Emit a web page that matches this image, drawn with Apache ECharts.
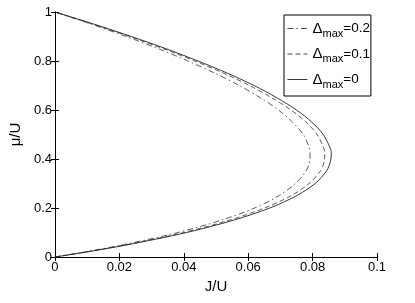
<!DOCTYPE html>
<html><head><meta charset="utf-8">
<script src="https://cdn.jsdelivr.net/npm/echarts@6/dist/echarts.min.js"></script>
<style>html,body{margin:0;padding:0;background:#fff}#c{width:415px;height:303px}</style>
</head><body><div id="c"></div>
<script>
// mu/U values (shared by all curves)
const muValues = [0, 0.02, 0.05, 0.1, 0.15, 0.2, 0.25, 0.3, 0.35, 0.375, 0.4, 0.425, 0.45, 0.5, 0.55, 0.6, 0.65, 0.7, 0.75, 0.8, 0.85, 0.9, 0.95, 1];
// J/U read for each curve
const jDelta0  = [0, 0.0096, 0.0226, 0.0409, 0.0554, 0.0667, 0.0750, 0.0808, 0.0843, 0.0852, 0.0857, 0.0858, 0.0853, 0.0833, 0.0798, 0.0750, 0.0689, 0.0618, 0.0536, 0.0444, 0.0345, 0.0237, 0.0122, 0];
const jDelta01 = [0, 0.0094, 0.0221, 0.0400, 0.0541, 0.0651, 0.0733, 0.0789, 0.0824, 0.0833, 0.0837, 0.0838, 0.0833, 0.0814, 0.0780, 0.0733, 0.0673, 0.0604, 0.0524, 0.0434, 0.0337, 0.0232, 0.0119, 0];
const jDelta02 = [0, 0.0090, 0.0212, 0.0382, 0.0516, 0.0620, 0.0695, 0.0747, 0.0779, 0.0788, 0.0792, 0.0792, 0.0789, 0.0771, 0.0738, 0.0694, 0.0638, 0.0572, 0.0497, 0.0413, 0.0321, 0.0221, 0.0114, 0];
const seriesNames = ['0.2', '0.1', '0'];
const xTicks = [0, 0.02, 0.04, 0.06, 0.08, 0.1];
const yTicks = [0, 0.2, 0.4, 0.6, 0.8, 1];

const pairs = (js) => js.map((j, i) => [j, muValues[i]]);
const font = 'Liberation Sans, Arial, sans-serif';
const chart = echarts.init(document.getElementById('c'), null, {renderer: 'canvas'});
const axisCommon = {
  axisLine: {show: true, lineStyle: {color: '#000', width: 1}},
  axisTick: {show: true, inside: true, length: 4, lineStyle: {color: '#000'}},
  splitLine: {show: false}
};
const lineBase = {type: 'line', symbol: 'none', showSymbol: false, smooth: 0.3, z: 2};
chart.setOption({
  animation: false,
  backgroundColor: '#fff',
  grid: {left: 54, right: 38, top: 12, bottom: 46},
  xAxis: [
    Object.assign({type: 'value', min: 0, max: 0.1, interval: 0.02, position: 'bottom',
      name: 'J/U', nameLocation: 'middle', nameGap: 20,
      nameTextStyle: {fontFamily: font, fontSize: 15, color: '#000'},
      axisLabel: {fontFamily: font, fontSize: 13, color: '#000', margin: 4,
        formatter: v => { const t = xTicks.find(x => Math.abs(x - v) < 1e-9); return t === undefined ? '' : String(+t.toFixed(2)); }}
    }, axisCommon),
    Object.assign({type: 'value', min: 0, max: 0.1, interval: 0.02, position: 'top', axisLabel: {show: false}}, axisCommon)
  ],
  yAxis: [
    Object.assign({type: 'value', min: 0, max: 1, interval: 0.2, position: 'left',
      name: 'μ/U', nameLocation: 'middle', nameGap: 23, nameRotate: 90,
      nameTextStyle: {fontFamily: font, fontSize: 15, color: '#000'},
      axisLabel: {fontFamily: font, fontSize: 13, color: '#000', margin: 3,
        formatter: v => { const t = yTicks.find(y => Math.abs(y - v) < 1e-9); return t === undefined ? '' : String(+t.toFixed(1)); }}
    }, axisCommon),
    Object.assign({type: 'value', min: 0, max: 1, interval: 0.2, position: 'right', axisLabel: {show: false}}, axisCommon)
  ],
  legend: {
    left: 284, top: 15, orient: 'vertical',
    padding: [6, 1, 6, 3], itemGap: 7.5, itemWidth: 20, itemHeight: 17,
    borderColor: '#000', borderWidth: 1, backgroundColor: '#fff',
    itemStyle: {opacity: 0},
    lineStyle: {width: 0.9},
    textStyle: {fontFamily: font, fontSize: 14, color: '#000',
      rich: {d: {fontFamily: font, fontSize: 15, color: '#000'},
             s: {fontFamily: font, fontSize: 11, color: '#000', padding: [10, 0, 0, 0]},
             v: {fontFamily: font, fontSize: 13.5, color: '#000'}}},
    formatter: n => '{d|Δ}{s|max}{v|=' + n + '}',
    data: seriesNames
  },
  series: [
    Object.assign({name: seriesNames[0], data: pairs(jDelta02),
      lineStyle: {color: '#333', width: 0.8, type: [6, 3, 1.5, 3]}, itemStyle: {color: '#333'}}, lineBase),
    Object.assign({name: seriesNames[1], data: pairs(jDelta01),
      lineStyle: {color: '#333', width: 0.8, type: [5, 3]}, itemStyle: {color: '#333'}}, lineBase),
    Object.assign({name: seriesNames[2], data: pairs(jDelta0),
      lineStyle: {color: '#222', width: 0.9, type: 'solid'}, itemStyle: {color: '#222'}}, lineBase)
  ]
});
</script></body></html>
